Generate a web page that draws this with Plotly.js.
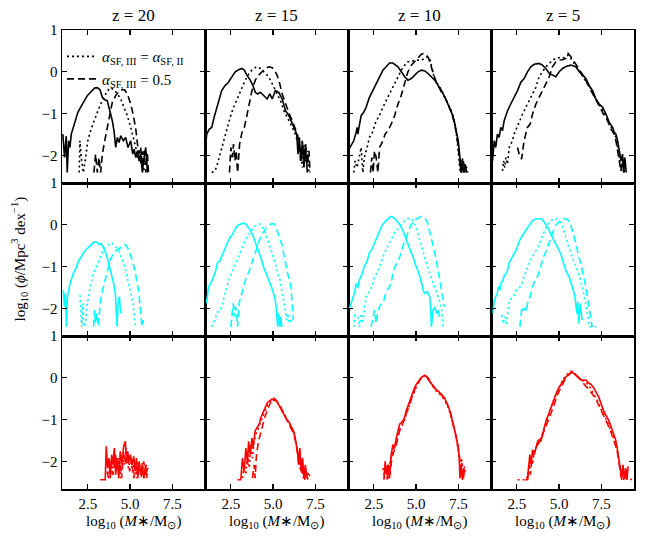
<!DOCTYPE html>
<html>
<head>
<meta charset="utf-8">
<script src="https://cdn.plot.ly/plotly-3.0.1.min.js"></script>
<style>html,body{margin:0;padding:0;background:#fff;}#chart{width:649px;height:536px;}</style>
</head>
<body>
<div id="chart"></div>
<script>
// ---------------- DATA ----------------
const redshifts = ["z = 20", "z = 15", "z = 10", "z = 5"];
const xTickVals = [2.5, 5.0, 7.5];
const yTickVals = [-2, -1, 0, 1];
const legendDotted = "<i>α</i><sub>SF, III</sub> = <i>α</i><sub>SF, II</sub>";
const legendDashed = "<i>α</i><sub>SF, III</sub> = 0.5";

// Row 1 (black) ---------------------------------------------------------
const bk20_solid_x = [1.02,1.12,1.22,1.28,1.36,1.44,1.52,1.63,1.77,1.91,2.07,2.27,2.47,2.66,2.90,3.06,3.22,3.36,3.50,3.65,3.81,3.95,4.05,4.15,4.25,4.35,4.45,4.60,4.74,4.88,5.04,5.16,5.24,5.34,5.44,5.53,5.63,5.73,5.83,5.93,6.03];
const bk20_solid_y = [-1.49,-2.05,-1.54,-2.41,-1.65,-1.81,-1.49,-1.33,-1.17,-0.97,-0.85,-0.69,-0.57,-0.49,-0.39,-0.38,-0.43,-0.61,-0.67,-0.69,-0.93,-1.17,-1.41,-1.81,-1.57,-1.69,-1.53,-1.65,-1.57,-1.81,-1.65,-1.97,-1.85,-2.05,-1.89,-2.13,-1.97,-2.41,-2.05,-1.81,-2.41];
const bk20_dot_x = [1.99,2.03,2.11,2.23,2.37,2.50,2.66,2.86,3.06,3.26,3.46,3.65,3.85,4.05,4.25,4.45,4.64,4.84,5.04,5.20,5.34,5.44,5.53,5.63,5.73,5.83];
const bk20_dot_y = [-2.41,-1.65,-2.05,-2.41,-2.05,-1.65,-1.41,-1.17,-0.97,-0.77,-0.61,-0.46,-0.38,-0.43,-0.53,-0.65,-0.85,-1.05,-1.33,-1.57,-1.81,-2.05,-1.85,-2.21,-1.89,-2.41];
const bk20_dash_x = [2.86,2.96,3.06,3.16,3.26,3.36,3.50,3.65,3.81,3.95,4.15,4.35,4.54,4.68,4.84,5.04,5.20,5.34,5.44,5.53,5.63,5.73,5.83,5.93,6.03,6.09];
const bk20_dash_y = [-2.41,-1.97,-2.41,-2.05,-2.41,-1.97,-1.65,-1.33,-0.97,-0.73,-0.57,-0.46,-0.43,-0.43,-0.53,-0.77,-1.05,-1.37,-1.73,-1.97,-1.81,-2.29,-1.89,-2.41,-1.97,-2.41];

const bk15_solid_x = [1.00,1.07,1.23,1.37,1.51,1.67,1.82,1.96,2.16,2.36,2.56,2.76,2.96,3.16,3.30,3.45,3.65,3.81,3.95,4.09,4.25,4.45,4.65,4.81,4.95,5.14,5.34,5.54,5.74,5.94,6.08,6.24,6.40,6.48,6.56,6.64,6.73,6.83,6.93,7.03];
const bk15_solid_y = [-1.81,-1.49,-1.37,-1.33,-1.09,-0.85,-0.69,-0.45,-0.33,-0.25,-0.12,0.00,0.05,0.08,0.04,-0.08,-0.20,-0.33,-0.49,-0.53,-0.49,-0.57,-0.65,-0.53,-0.65,-0.45,-0.49,-0.65,-0.93,-1.05,-1.17,-1.33,-1.49,-1.97,-1.57,-2.13,-1.73,-2.29,-1.81,-2.41];
const bk15_dot_x = [1.37,1.57,1.70,1.86,1.96,2.10,2.26,2.46,2.66,2.86,3.06,3.26,3.45,3.65,3.85,4.05,4.25,4.45,4.65,4.85,5.04,5.24,5.44,5.64,5.84,6.04,6.24,6.44,6.64,6.73,6.83,6.93,7.03,7.13];
const bk15_dot_y = [-2.41,-2.37,-2.21,-1.97,-1.81,-1.57,-1.33,-1.09,-0.85,-0.65,-0.45,-0.29,-0.12,0.00,0.08,0.12,0.08,0.00,-0.08,-0.20,-0.37,-0.53,-0.69,-0.93,-1.09,-1.25,-1.41,-1.65,-1.89,-2.29,-1.73,-2.13,-1.89,-2.41];
const bk15_dash_x = [2.42,2.50,2.58,2.66,2.74,2.82,2.90,3.02,3.16,3.30,3.45,3.61,3.75,3.95,4.15,4.35,4.55,4.75,4.95,5.08,5.24,5.40,5.54,5.68,5.84,6.00,6.14,6.28,6.44,6.56,6.64,6.73,6.83,6.93,7.03,7.13,7.19];
const bk15_dash_y = [-2.41,-1.81,-2.05,-1.73,-2.13,-1.89,-2.41,-1.73,-1.45,-1.33,-1.05,-0.69,-0.45,-0.20,-0.08,0.00,0.08,0.12,0.10,0.04,-0.08,-0.29,-0.53,-0.69,-0.89,-1.05,-1.17,-1.33,-1.49,-1.73,-2.13,-1.65,-2.05,-1.73,-2.21,-1.89,-2.41];

const bk10_solid_x = [1.03,1.15,1.31,1.45,1.51,1.55,1.65,1.75,1.90,2.04,2.24,2.44,2.64,2.84,3.04,3.23,3.43,3.63,3.77,3.93,4.13,4.33,4.52,4.72,4.92,5.12,5.32,5.52,5.71,5.91,6.11,6.31,6.51,6.71,6.90,7.10,7.26,7.40,7.50,7.60,7.66,7.74,7.82,7.90,8.00];
const bk10_solid_y = [-1.85,-1.77,-1.65,-1.45,-1.33,-1.49,-1.25,-1.05,-0.97,-0.85,-0.61,-0.45,-0.29,-0.12,0.04,0.12,0.21,0.21,0.16,0.12,0.00,-0.12,-0.20,-0.16,-0.08,0.00,0.04,0.02,-0.04,-0.12,-0.20,-0.33,-0.45,-0.61,-0.77,-0.97,-1.17,-1.41,-1.65,-2.05,-2.41,-2.13,-2.41,-2.21,-2.41];
const bk10_dot_x = [1.31,1.39,1.51,1.65,1.75,1.85,1.94,2.10,2.24,2.38,2.50,2.64,2.78,2.94,3.13,3.33,3.53,3.73,3.93,4.13,4.33,4.52,4.72,4.92,5.12,5.32,5.52,5.67,5.81,5.91,6.07,6.21,6.41,6.61,6.81,7.00,7.20,7.34,7.44,7.54,7.62,7.74,7.86,7.94,8.06];
const bk10_dot_y = [-2.41,-2.13,-2.29,-2.05,-1.81,-2.41,-2.05,-1.81,-1.57,-1.49,-1.33,-1.17,-1.09,-0.93,-0.77,-0.61,-0.45,-0.29,-0.12,0.04,0.16,0.24,0.24,0.28,0.28,0.28,0.32,0.36,0.32,0.12,-0.12,-0.25,-0.37,-0.53,-0.69,-0.85,-1.05,-1.33,-1.65,-2.05,-2.41,-2.05,-2.41,-2.21,-2.41];
const bk10_dash_x = [2.30,2.38,2.46,2.54,2.64,2.74,2.84,2.94,3.04,3.17,3.33,3.53,3.73,3.93,4.09,4.23,4.37,4.52,4.72,4.92,5.12,5.32,5.48,5.62,5.75,5.87,6.01,6.15,6.31,6.51,6.71,6.90,7.10,7.26,7.40,7.50,7.60,7.70,7.80,7.90];
const bk10_dash_y = [-2.41,-2.05,-2.41,-1.89,-2.05,-2.41,-1.81,-1.73,-1.65,-1.49,-1.41,-1.25,-1.05,-0.77,-0.61,-0.41,-0.20,0.00,0.16,0.24,0.32,0.42,0.44,0.40,0.32,0.16,-0.04,-0.20,-0.33,-0.49,-0.61,-0.77,-0.97,-1.21,-1.49,-1.81,-2.21,-2.41,-2.13,-2.41];

const bk5_solid_x = [1.06,1.16,1.25,1.35,1.45,1.55,1.65,1.75,1.85,1.95,2.14,2.34,2.54,2.74,2.93,3.13,3.33,3.53,3.82,4.02,4.22,4.42,4.61,4.81,5.01,5.21,5.41,5.70,6.00,6.20,6.39,6.59,6.79,6.99,7.18,7.38,7.58,7.78,7.97,8.17,8.27,8.37,8.47,8.57,8.67,8.76,8.82,8.90,8.98];
const bk5_solid_y = [-2.13,-1.65,-1.81,-1.49,-1.57,-1.33,-1.41,-1.17,-1.05,-0.93,-0.77,-0.61,-0.45,-0.25,-0.16,0.00,0.12,0.18,0.20,0.16,0.08,-0.04,-0.08,-0.12,0.00,0.08,0.13,0.16,0.12,0.00,-0.08,-0.16,-0.33,-0.45,-0.65,-0.77,-0.85,-1.01,-1.21,-1.33,-1.45,-1.49,-1.65,-1.89,-2.13,-1.97,-2.41,-2.05,-2.41];
const bk5_dot_x = [1.65,1.71,1.79,1.85,1.95,2.05,2.14,2.24,2.34,2.50,2.64,2.84,3.03,3.23,3.43,3.63,3.82,4.02,4.22,4.42,4.61,4.81,5.01,5.21,5.41,5.54,5.70,5.90,6.10,6.29,6.49,6.69,6.89,7.08,7.28,7.48,7.68,7.88,8.07,8.27,8.37,8.47,8.57,8.67,8.76,8.86];
const bk5_dot_y = [-2.37,-2.13,-2.29,-2.05,-2.21,-1.81,-1.73,-1.65,-1.49,-1.33,-1.17,-1.01,-0.85,-0.69,-0.53,-0.37,-0.12,0.00,0.12,0.20,0.28,0.32,0.34,0.32,0.36,0.40,0.32,0.20,0.08,-0.04,-0.16,-0.29,-0.41,-0.57,-0.73,-0.85,-0.97,-1.13,-1.29,-1.45,-1.57,-1.81,-2.05,-2.37,-2.13,-2.41];
const bk5_dash_x = [2.54,2.64,2.78,2.84,2.93,3.03,3.13,3.29,3.43,3.63,3.82,4.02,4.22,4.42,4.61,4.81,5.01,5.21,5.41,5.54,5.70,5.90,6.10,6.29,6.49,6.69,6.89,7.08,7.28,7.48,7.68,7.88,8.07,8.27,8.37,8.47,8.57,8.67,8.76,8.86];
const bk5_dash_y = [-1.81,-1.97,-2.09,-1.89,-1.65,-1.49,-1.33,-1.25,-1.01,-0.77,-0.61,-0.45,-0.29,-0.12,0.12,0.24,0.28,0.29,0.32,0.44,0.36,0.24,0.12,0.00,-0.12,-0.29,-0.45,-0.61,-0.73,-0.89,-1.05,-1.17,-1.37,-1.49,-1.65,-1.89,-2.13,-2.37,-2.05,-2.41];

// Row 2 (cyan) ----------------------------------------------------------
const cy20_solid_x = [1.05,1.11,1.17,1.23,1.29,1.35,1.45,1.55,1.65,1.81,1.94,2.08,2.24,2.40,2.54,2.64,2.80,2.94,3.08,3.19,3.29,3.39,3.49,3.63,3.73,3.83,3.93,4.03,4.13,4.19,4.23,4.29,4.37,4.42,4.46];
const cy20_solid_y = [-1.56,-1.96,-1.64,-2.44,-1.72,-1.56,-1.40,-1.27,-1.15,-1.03,-0.87,-0.79,-0.67,-0.59,-0.55,-0.51,-0.43,-0.41,-0.43,-0.47,-0.45,-0.51,-0.59,-0.75,-0.91,-1.11,-1.23,-1.40,-1.64,-2.00,-2.44,-1.88,-1.72,-2.00,-2.12];
const cy20_dot_x = [2.04,2.08,2.14,2.20,2.24,2.34,2.44,2.54,2.64,2.74,2.84,3.00,3.13,3.23,3.39,3.53,3.73,3.87,4.03,4.19,4.33,4.46,4.62,4.78,4.92,5.06,5.18,5.26,5.32];
const cy20_dot_y = [-1.68,-2.20,-2.44,-1.88,-2.36,-2.44,-1.96,-1.72,-1.48,-1.31,-1.15,-0.99,-0.87,-0.75,-0.63,-0.55,-0.47,-0.43,-0.47,-0.55,-0.63,-0.75,-0.91,-1.15,-1.40,-1.64,-1.88,-2.20,-2.44];
const cy20_dash_x = [2.84,2.90,2.96,3.04,3.13,3.23,3.33,3.43,3.53,3.63,3.73,3.83,3.99,4.13,4.27,4.42,4.58,4.72,4.86,4.98,5.12,5.22,5.32,5.42,5.52,5.58,5.65,5.71,5.77,5.81];
const cy20_dash_y = [-2.44,-2.04,-2.36,-2.12,-2.44,-1.88,-1.64,-1.48,-1.31,-1.15,-0.99,-0.83,-0.71,-0.63,-0.59,-0.55,-0.51,-0.47,-0.55,-0.67,-0.83,-0.99,-1.15,-1.40,-1.60,-1.88,-2.20,-2.44,-2.28,-2.44];

const cy15_solid_x = [1.06,1.18,1.31,1.45,1.57,1.71,1.85,2.01,2.16,2.30,2.44,2.60,2.76,2.90,3.09,3.23,3.39,3.55,3.69,3.82,3.98,4.14,4.28,4.42,4.58,4.73,4.87,5.01,5.13,5.21,5.27,5.33,5.41,5.46,5.52];
const cy15_solid_y = [-1.88,-1.48,-1.40,-1.27,-1.15,-0.91,-0.87,-0.71,-0.55,-0.43,-0.31,-0.23,-0.10,-0.02,0.02,0.04,0.02,-0.06,-0.15,-0.27,-0.43,-0.63,-0.79,-0.99,-1.15,-1.31,-1.44,-1.60,-1.80,-2.04,-2.44,-2.12,-2.44,-2.20,-2.44];
const cy15_dot_x = [1.37,1.51,1.65,1.77,1.91,2.01,2.10,2.24,2.40,2.56,2.70,2.90,3.09,3.29,3.49,3.69,3.88,4.08,4.22,4.38,4.54,4.67,4.81,4.97,5.13,5.27,5.41,5.52,5.64,5.72,5.80,5.88,5.96,6.04,6.12];
const cy15_dot_y = [-2.44,-2.28,-2.16,-2.04,-2.00,-1.88,-1.72,-1.52,-1.31,-1.15,-0.99,-0.79,-0.63,-0.43,-0.27,-0.15,-0.04,-0.01,0.02,-0.06,-0.19,-0.35,-0.51,-0.71,-0.91,-1.15,-1.31,-1.56,-1.80,-2.04,-2.28,-2.12,-2.36,-2.24,-2.36];
const cy15_dash_x = [2.50,2.56,2.64,2.70,2.76,2.84,2.90,2.99,3.09,3.19,3.29,3.43,3.55,3.69,3.82,3.98,4.14,4.28,4.48,4.61,4.77,4.93,5.07,5.21,5.37,5.52,5.66,5.76,5.86,5.96,6.06,6.12,6.16,6.20];
const cy15_dash_y = [-2.44,-2.12,-1.88,-2.20,-1.96,-2.04,-2.44,-1.88,-1.72,-1.56,-1.40,-1.23,-1.15,-0.99,-0.79,-0.63,-0.43,-0.27,-0.15,-0.06,-0.01,0.03,0.02,-0.10,-0.27,-0.47,-0.71,-0.95,-1.15,-1.31,-1.48,-1.80,-2.04,-2.28];

const cy10_solid_x = [1.05,1.15,1.25,1.35,1.45,1.55,1.65,1.75,1.85,1.94,2.10,2.24,2.38,2.54,2.70,2.84,2.98,3.13,3.33,3.49,3.63,3.77,3.93,4.09,4.23,4.37,4.52,4.68,4.82,4.96,5.12,5.28,5.42,5.52,5.67,5.81,5.87,5.91,6.01,6.11,6.21,6.31,6.37];
const cy10_solid_y = [-2.00,-1.88,-1.80,-1.64,-1.40,-1.52,-1.31,-1.23,-1.11,-0.99,-0.87,-0.67,-0.59,-0.43,-0.31,-0.15,-0.02,0.06,0.14,0.20,0.18,0.14,0.06,-0.02,-0.15,-0.31,-0.47,-0.63,-0.75,-0.95,-1.11,-1.31,-1.56,-1.64,-1.60,-1.72,-2.04,-2.44,-2.04,-1.96,-2.12,-2.04,-2.20];
const cy10_dot_x = [1.31,1.39,1.55,1.65,1.75,1.85,1.94,2.04,2.14,2.30,2.44,2.54,2.70,2.84,2.98,3.13,3.33,3.53,3.73,3.93,4.13,4.33,4.52,4.68,4.82,4.96,5.12,5.28,5.42,5.56,5.67,5.81,5.95,6.11,6.27,6.41,6.51,6.57,6.61];
const cy10_dot_y = [-2.44,-2.16,-2.20,-2.44,-2.12,-2.36,-2.04,-1.72,-1.68,-1.56,-1.40,-1.23,-1.15,-0.99,-0.83,-0.67,-0.51,-0.35,-0.19,-0.10,-0.01,0.10,0.14,0.15,0.10,-0.02,-0.23,-0.43,-0.63,-0.83,-0.99,-1.15,-1.31,-1.48,-1.64,-1.84,-2.00,-2.20,-2.44];
const cy10_dash_x = [2.34,2.44,2.54,2.64,2.74,2.84,2.94,3.10,3.23,3.37,3.53,3.63,3.77,3.93,4.09,4.23,4.37,4.52,4.68,4.88,5.08,5.28,5.42,5.56,5.67,5.81,5.95,6.07,6.19,6.31,6.41,6.51,6.59,6.67];
const cy10_dash_y = [-2.44,-2.20,-2.04,-2.36,-2.08,-1.96,-1.88,-1.80,-1.60,-1.52,-1.40,-1.15,-0.99,-0.87,-0.71,-0.51,-0.35,-0.19,-0.02,0.10,0.15,0.20,0.18,0.14,0.06,-0.15,-0.39,-0.59,-0.83,-1.07,-1.31,-1.56,-1.80,-1.96];

const cy5_solid_x = [1.09,1.15,1.25,1.35,1.41,1.49,1.55,1.65,1.75,1.85,1.94,2.04,2.20,2.34,2.48,2.64,2.80,2.94,3.08,3.23,3.43,3.63,3.83,3.99,4.13,4.33,4.52,4.72,4.92,5.12,5.26,5.42,5.58,5.71,5.85,5.97,6.05,6.11,6.17,6.25,6.31,6.37];
const cy5_solid_y = [-2.12,-1.84,-1.72,-1.64,-1.48,-1.56,-1.40,-1.35,-1.23,-1.15,-1.11,-0.91,-0.79,-0.71,-0.59,-0.39,-0.27,-0.19,-0.10,-0.01,0.10,0.14,0.15,0.14,0.06,-0.06,-0.23,-0.39,-0.55,-0.71,-0.91,-1.11,-1.23,-1.40,-1.56,-1.80,-2.12,-1.84,-2.36,-1.88,-2.04,-2.28];
const cy5_dot_x = [1.61,1.69,1.81,1.88,1.94,2.04,2.08,2.20,2.34,2.48,2.64,2.80,2.94,3.08,3.23,3.43,3.63,3.79,3.93,4.07,4.23,4.38,4.52,4.72,4.86,5.02,5.18,5.32,5.46,5.62,5.77,5.91,6.05,6.21,6.37,6.51,6.61,6.71,6.81,7.00,7.20];
const cy5_dot_y = [-2.16,-2.36,-2.20,-2.40,-2.16,-1.96,-1.80,-1.76,-1.68,-1.56,-1.52,-1.40,-1.23,-1.07,-0.91,-0.75,-0.63,-0.51,-0.35,-0.19,-0.06,0.04,0.10,0.14,0.14,0.10,-0.02,-0.19,-0.39,-0.59,-0.75,-0.91,-1.07,-1.23,-1.48,-1.72,-1.96,-2.20,-2.44,-2.44,-2.44];
const cy5_dash_x = [2.68,2.74,2.80,2.88,3.00,3.08,3.13,3.23,3.33,3.43,3.59,3.73,3.87,4.03,4.19,4.33,4.46,4.62,4.78,4.98,5.18,5.38,5.52,5.65,5.77,5.91,6.05,6.17,6.31,6.41,6.51,6.61,6.71,6.81,6.90,6.96];
const cy5_dash_y = [-2.44,-2.12,-1.96,-2.04,-2.00,-2.08,-1.88,-1.80,-1.60,-1.48,-1.31,-1.23,-1.07,-0.83,-0.67,-0.51,-0.35,-0.19,-0.02,0.06,0.14,0.15,0.12,0.06,-0.10,-0.31,-0.55,-0.75,-0.99,-1.15,-1.31,-1.56,-1.80,-2.04,-2.24,-2.44];

// Row 3 (red) -----------------------------------------------------------
const rd20_solid_x = [3.23,3.53,3.59,3.67,3.75,3.83,3.91,3.99,4.07,4.15,4.23,4.33,4.42,4.52,4.62,4.72,4.78,4.86,4.94,5.02,5.12,5.22,5.30,5.38,5.46,5.54,5.62,5.72,5.82,5.92,6.01];
const rd20_solid_y = [-2.44,-2.44,-1.64,-2.16,-1.92,-2.40,-1.84,-2.08,-1.68,-2.32,-1.92,-2.40,-1.76,-2.08,-1.64,-1.52,-1.92,-1.76,-2.00,-1.84,-2.08,-1.88,-2.24,-1.92,-2.40,-2.00,-2.32,-2.08,-2.40,-2.08,-2.40];
const rd20_dot_x = [3.73,3.83,3.93,4.07,4.19,4.33,4.42,4.52,4.66,4.78,4.90,5.02,5.14,5.26,5.38,5.50,5.62,5.73,5.85,5.97,6.05];
const rd20_dot_y = [-2.40,-2.08,-2.32,-1.76,-2.24,-1.92,-2.40,-1.84,-2.08,-1.68,-2.16,-1.92,-2.24,-1.96,-2.40,-2.00,-2.24,-2.04,-2.40,-2.08,-2.32];
const rd20_dash_x = [3.63,3.73,3.87,3.99,4.13,4.27,4.38,4.50,4.62,4.74,4.86,4.98,5.10,5.22,5.34,5.46,5.58,5.69,5.81,5.93,6.05];
const rd20_dash_y = [-2.24,-2.40,-2.00,-2.32,-1.84,-2.16,-1.92,-2.40,-1.76,-2.08,-1.84,-2.24,-1.96,-2.40,-2.04,-2.32,-2.08,-2.40,-2.00,-2.32,-2.16];

const rd15_solid_x = [2.90,3.09,3.19,3.29,3.39,3.49,3.55,3.65,3.75,3.82,3.94,4.08,4.18,4.28,4.38,4.48,4.58,4.67,4.81,4.93,5.07,5.21,5.37,5.52,5.66,5.80,5.96,6.12,6.25,6.35,6.45,6.51,6.59,6.67,6.75,6.83,6.91,6.99];
const rd15_solid_y = [-2.44,-2.44,-1.92,-2.24,-1.68,-2.08,-1.52,-1.84,-1.44,-1.68,-1.27,-1.19,-1.11,-0.95,-0.87,-0.75,-0.67,-0.59,-0.55,-0.51,-0.53,-0.56,-0.67,-0.79,-0.91,-0.99,-1.07,-1.19,-1.31,-1.52,-1.76,-2.08,-1.68,-2.24,-1.92,-2.40,-2.08,-2.32];
const rd15_dot_x = [3.19,3.29,3.39,3.49,3.59,3.69,3.78,3.88,3.98,4.08,4.22,4.34,4.48,4.61,4.77,4.93,5.09,5.25,5.41,5.56,5.72,5.88,6.04,6.20,6.31,6.43,6.55,6.63,6.71,6.79,6.87,6.95,7.05,7.14];
const rd15_dot_y = [-2.40,-2.08,-2.32,-1.76,-2.16,-1.60,-1.92,-1.52,-1.35,-1.27,-1.11,-0.99,-0.83,-0.71,-0.59,-0.51,-0.55,-0.59,-0.67,-0.79,-0.91,-1.03,-1.15,-1.27,-1.44,-1.68,-1.92,-2.24,-2.00,-2.40,-2.16,-2.40,-2.24,-2.40];
const rd15_dash_x = [3.78,3.88,3.94,4.02,4.14,4.28,4.38,4.48,4.61,4.77,4.89,5.01,5.13,5.29,5.45,5.60,5.76,5.92,6.08,6.24,6.35,6.47,6.55,6.63,6.71,6.79,6.87,6.95,7.07,7.18];
const rd15_dash_y = [-2.40,-2.08,-2.40,-1.84,-1.52,-1.27,-1.15,-0.99,-0.83,-0.67,-0.55,-0.48,-0.51,-0.59,-0.69,-0.83,-0.97,-1.10,-1.21,-1.35,-1.56,-1.84,-2.08,-1.92,-2.32,-2.08,-2.44,-2.24,-2.44,-2.32];

const rd10_solid_x = [3.10,3.17,3.25,3.33,3.43,3.53,3.63,3.73,3.83,3.93,4.03,4.13,4.29,4.42,4.56,4.72,4.88,5.02,5.16,5.32,5.48,5.62,5.75,5.91,6.07,6.21,6.35,6.51,6.67,6.81,6.94,7.06,7.20,7.30,7.40,7.50,7.56,7.60,7.66,7.74,7.82,7.90];
const rd10_solid_y = [-2.44,-2.00,-2.32,-2.08,-2.40,-1.84,-1.60,-1.68,-1.44,-1.27,-1.11,-1.07,-0.99,-0.79,-0.63,-0.43,-0.27,-0.15,-0.06,0.01,0.05,0.03,-0.06,-0.15,-0.23,-0.29,-0.33,-0.39,-0.47,-0.59,-0.71,-0.87,-1.07,-1.27,-1.48,-1.68,-1.92,-2.40,-2.08,-2.44,-2.16,-2.24];
const rd10_dot_x = [3.04,3.13,3.23,3.33,3.49,3.63,3.77,3.89,4.03,4.17,4.33,4.48,4.62,4.76,4.92,5.08,5.22,5.36,5.52,5.67,5.81,5.95,6.11,6.27,6.41,6.55,6.71,6.87,7.00,7.14,7.26,7.38,7.46,7.54,7.62,7.70,7.78,7.86,7.94];
const rd10_dot_y = [-2.16,-2.40,-2.08,-2.44,-1.92,-1.76,-1.60,-1.44,-1.23,-1.15,-0.99,-0.83,-0.65,-0.47,-0.31,-0.16,-0.06,0.02,0.06,0.02,-0.08,-0.19,-0.27,-0.35,-0.39,-0.45,-0.55,-0.67,-0.83,-1.03,-1.23,-1.44,-1.64,-1.84,-2.16,-1.92,-2.40,-2.12,-2.24];
const rd10_dash_x = [3.29,3.37,3.45,3.57,3.69,3.83,3.97,4.09,4.23,4.37,4.52,4.68,4.82,4.96,5.12,5.28,5.44,5.60,5.75,5.91,6.07,6.23,6.39,6.55,6.71,6.87,7.02,7.16,7.28,7.40,7.50,7.58,7.64,7.72,7.80,7.88];
const rd10_dash_y = [-2.44,-2.08,-2.32,-1.92,-1.76,-1.60,-1.35,-1.19,-1.07,-0.91,-0.75,-0.55,-0.39,-0.24,-0.13,-0.02,0.03,0.04,-0.02,-0.13,-0.23,-0.31,-0.37,-0.43,-0.53,-0.65,-0.81,-1.02,-1.23,-1.44,-1.66,-1.89,-2.24,-2.04,-2.44,-2.16];

const rd5_solid_x = [3.00,3.13,3.19,3.27,3.35,3.43,3.53,3.63,3.73,3.83,3.93,4.03,4.13,4.23,4.38,4.52,4.66,4.82,4.98,5.12,5.26,5.42,5.58,5.71,5.85,6.01,6.17,6.31,6.45,6.61,6.77,6.90,7.04,7.20,7.36,7.50,7.64,7.80,7.96,8.10,8.23,8.35,8.43,8.51,8.59,8.65,8.71,8.79,8.87,8.95,9.03,9.09];
const rd5_solid_y = [-2.44,-2.44,-2.16,-1.84,-2.08,-1.72,-1.84,-1.64,-1.52,-1.48,-1.52,-1.35,-1.15,-1.03,-0.87,-0.71,-0.55,-0.39,-0.24,-0.15,-0.05,0.03,0.08,0.14,0.11,0.06,0.00,-0.05,-0.06,-0.06,-0.13,-0.16,-0.23,-0.35,-0.47,-0.63,-0.79,-0.91,-1.03,-1.19,-1.35,-1.48,-1.64,-1.84,-2.00,-2.24,-2.44,-2.08,-2.40,-2.16,-2.44,-2.12];
const rd5_dot_x = [2.54,2.74,3.04,3.23,3.33,3.43,3.53,3.63,3.79,3.93,4.07,4.23,4.38,4.52,4.66,4.82,4.98,5.12,5.26,5.42,5.58,5.71,5.85,6.01,6.17,6.33,6.49,6.65,6.81,6.96,7.12,7.28,7.44,7.60,7.76,7.92,8.08,8.23,8.35,8.47,8.55,8.63,8.71,8.79,8.87,8.95,9.03,9.35];
const rd5_dot_y = [-2.44,-2.44,-2.44,-2.24,-1.92,-2.08,-1.76,-1.68,-1.56,-1.44,-1.27,-1.07,-0.87,-0.71,-0.56,-0.40,-0.27,-0.13,-0.02,0.06,0.11,0.16,0.14,0.06,0.00,-0.05,-0.08,-0.13,-0.21,-0.31,-0.43,-0.55,-0.71,-0.83,-0.97,-1.11,-1.26,-1.42,-1.56,-1.76,-1.96,-2.16,-2.40,-2.12,-2.44,-2.20,-2.40,-2.44];
const rd5_dash_x = [3.13,3.23,3.31,3.39,3.49,3.59,3.73,3.87,3.99,4.13,4.27,4.42,4.58,4.72,4.86,5.02,5.18,5.34,5.50,5.65,5.81,5.97,6.13,6.29,6.45,6.61,6.77,6.92,7.08,7.24,7.40,7.56,7.72,7.88,8.04,8.19,8.31,8.43,8.51,8.59,8.67,8.75,8.83,8.91,8.99];
const rd5_dash_y = [-2.44,-2.08,-2.32,-1.92,-1.84,-1.72,-1.60,-1.52,-1.40,-1.27,-1.11,-0.95,-0.79,-0.63,-0.45,-0.31,-0.16,-0.05,0.03,0.10,0.14,0.10,0.02,-0.06,-0.15,-0.21,-0.27,-0.35,-0.45,-0.56,-0.69,-0.83,-0.97,-1.11,-1.26,-1.42,-1.56,-1.72,-1.92,-2.12,-2.36,-2.16,-2.44,-2.24,-2.44];

// ---------------- STRUCTURE ----------------
const rowsData = [
  { color: "#000000", panels: [
    [bk20_solid_x, bk20_solid_y, bk20_dot_x, bk20_dot_y, bk20_dash_x, bk20_dash_y],
    [bk15_solid_x, bk15_solid_y, bk15_dot_x, bk15_dot_y, bk15_dash_x, bk15_dash_y],
    [bk10_solid_x, bk10_solid_y, bk10_dot_x, bk10_dot_y, bk10_dash_x, bk10_dash_y],
    [bk5_solid_x, bk5_solid_y, bk5_dot_x, bk5_dot_y, bk5_dash_x, bk5_dash_y]]},
  { color: "#00ffff", panels: [
    [cy20_solid_x, cy20_solid_y, cy20_dot_x, cy20_dot_y, cy20_dash_x, cy20_dash_y],
    [cy15_solid_x, cy15_solid_y, cy15_dot_x, cy15_dot_y, cy15_dash_x, cy15_dash_y],
    [cy10_solid_x, cy10_solid_y, cy10_dot_x, cy10_dot_y, cy10_dash_x, cy10_dash_y],
    [cy5_solid_x, cy5_solid_y, cy5_dot_x, cy5_dot_y, cy5_dash_x, cy5_dash_y]]},
  { color: "#ff0000", panels: [
    [rd20_solid_x, rd20_solid_y, rd20_dot_x, rd20_dot_y, rd20_dash_x, rd20_dash_y],
    [rd15_solid_x, rd15_solid_y, rd15_dot_x, rd15_dot_y, rd15_dash_x, rd15_dash_y],
    [rd10_solid_x, rd10_solid_y, rd10_dot_x, rd10_dot_y, rd10_dash_x, rd10_dash_y],
    [rd5_solid_x, rd5_solid_y, rd5_dot_x, rd5_dot_y, rd5_dash_x, rd5_dash_y]]}
];

const FONT = "Liberation Serif";
const LW = 1.6;
const DOT = "2px,3px";
const DASH = "7px,4px";

const traces = [];
const layout = {
  width: 649, height: 536,
  margin: { l: 62, r: 15, t: 30, b: 47 },
  paper_bgcolor: "#ffffff", plot_bgcolor: "#ffffff",
  font: { family: FONT, size: 14, color: "#000" },
  showlegend: true,
  legend: { x: 0.0, y: 0.978, xanchor: "left", yanchor: "top", bgcolor: "rgba(0,0,0,0)",
            borderwidth: 0, font: { family: FONT, size: 15, color: "#000" }, itemwidth: 30,
            tracegroupgap: 0 },
  annotations: []
};

for (let r = 0; r < 3; r++) {
  for (let c = 0; c < 4; c++) {
    const idx = r * 4 + c + 1;
    const xa = idx === 1 ? "x" : "x" + idx;
    const ya = idx === 1 ? "y" : "y" + idx;
    const p = rowsData[r].panels[c];
    const col = rowsData[r].color;
    const isLegendPanel = (r === 0 && c === 0);
    traces.push({ x: p[0], y: p[1], xaxis: xa, yaxis: ya, type: "scatter", mode: "lines",
      line: { color: col, width: LW }, showlegend: false, hoverinfo: "skip" });
    traces.push({ x: p[2], y: p[3], xaxis: xa, yaxis: ya, type: "scatter", mode: "lines",
      line: { color: col, width: LW, dash: DOT }, showlegend: isLegendPanel,
      name: legendDotted, hoverinfo: "skip" });
    traces.push({ x: p[4], y: p[5], xaxis: xa, yaxis: ya, type: "scatter", mode: "lines",
      line: { color: col, width: LW, dash: DASH }, showlegend: isLegendPanel,
      name: legendDashed, hoverinfo: "skip" });

    const xKey = idx === 1 ? "xaxis" : "xaxis" + idx;
    const yKey = idx === 1 ? "yaxis" : "yaxis" + idx;
    layout[xKey] = {
      domain: [c * 0.25, (c + 1) * 0.25], anchor: ya,
      range: [0.97, 9.44], tickvals: xTickVals, tickformat: ".1f",
      showticklabels: r === 2, ticks: "inside", ticklen: 5, tickwidth: 1.2,
      tickcolor: "#000", showline: true, linecolor: "#000", linewidth: 1.5,
      mirror: "allticks", showgrid: false, zeroline: false,
      tickfont: { family: FONT, size: 15, color: "#000" }
    };
    layout[yKey] = {
      domain: [1 - (r + 1) / 3, 1 - r / 3], anchor: xa,
      range: [-2.66, 1.0], tickvals: yTickVals,
      showticklabels: c === 0, ticks: "inside", ticklen: 5, tickwidth: 1.2,
      tickcolor: "#000", showline: true, linecolor: "#000", linewidth: 1.5,
      mirror: "allticks", showgrid: false, zeroline: false,
      tickfont: { family: FONT, size: 15, color: "#000" }
    };
  }
}

// Column titles and x titles
for (let c = 0; c < 4; c++) {
  layout.annotations.push({ text: redshifts[c], xref: "paper", yref: "paper",
    x: (c + 0.5) * 0.25, y: 1, xanchor: "center", yanchor: "bottom", yshift: 3,
    showarrow: false, font: { family: FONT, size: 17, color: "#000" } });
  layout.annotations.push({ text: "log<sub>10</sub> (<i>M</i>∗/M<sub>⊙</sub>)",
    xref: "paper", yref: "paper", x: (c + 0.5) * 0.25, y: 0, xanchor: "center", yanchor: "top",
    yshift: -22, showarrow: false, font: { family: FONT, size: 15, color: "#000" } });
}
layout.annotations.push({ text: "log<sub>10</sub> (<i>ϕ</i>/Mpc<sup>3</sup> dex<sup>−1</sup>)",
  xref: "paper", yref: "paper", x: 0, y: 0.5, xanchor: "center", yanchor: "middle",
  xshift: -43, textangle: -90, showarrow: false, font: { family: FONT, size: 15, color: "#000" } });

Plotly.newPlot("chart", traces, layout, { staticPlot: true, displayModeBar: false });
</script>
</body>
</html>
